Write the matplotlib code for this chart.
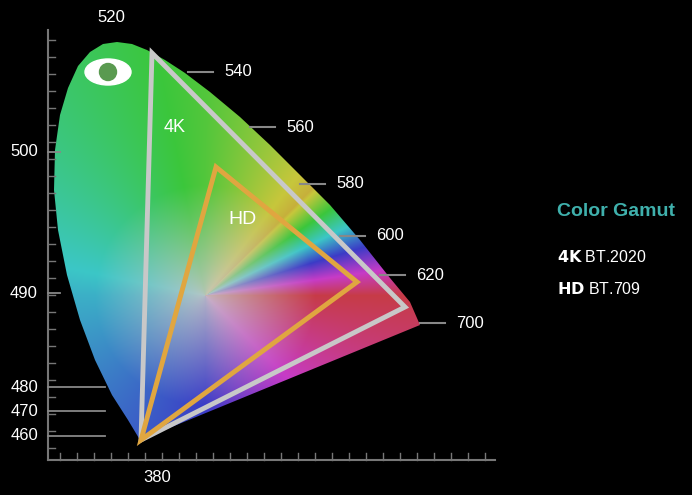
import numpy as np
import matplotlib
matplotlib.use("Agg")
import matplotlib.pyplot as plt
from matplotlib.patches import Polygon, Ellipse, Circle
from matplotlib.colors import hsv_to_rgb

plt.rcParams['font.family'] = ['Liberation Sans', 'DejaVu Sans']

# ---- data (pixel-space layout of the stylised diagram) ----
left_labels = ["500", "490", "480", "470", "460"]
left_label_y = [152, 293, 387, 411, 436]
spectral_labels = ["540", "560", "580", "600", "620", "700"]
spectral_x = [188, 250, 300, 340, 380, 420]
spectral_y = [72, 127, 184, 236, 275, 323]
top_label, top_xy = "520", (111, 18)
bottom_label, bottom_xy = "380", (157, 478)
locus_x = [140, 128, 112, 95, 80, 67, 58, 54, 55, 60, 68, 78, 90, 103, 117, 132, 147, 165, 185,
           210, 240, 270, 300, 330, 360, 390, 410, 420]
locus_y = [440, 420, 395, 360, 320, 275, 230, 190, 150, 115, 88, 66, 52, 44, 42, 44, 50, 60, 73,
           92, 117, 145, 175, 205, 240, 278, 302, 325]
tri_4k_x = [152, 405, 141]; tri_4k_y = [53, 307, 440]
tri_hd_x = [216, 357, 141]; tri_hd_y = [167, 282, 440]

W, H = 692, 495
fig = plt.figure(figsize=(W/100, H/100), dpi=100, facecolor="black")
ax = fig.add_axes([0, 0, 1, 1])
ax.set_xlim(0, W); ax.set_ylim(H, 0); ax.axis("off"); ax.set_facecolor("black")

# colour field
cx, cy = 205, 295
yy, xx = np.mgrid[0:H, 0:W]
dx = xx - cx; dy = cy - yy
ang = np.degrees(np.arctan2(dy, dx)) % 360
hue = np.interp(ang, [0, 45, 90, 180, 225, 270, 315, 360],
                [355, 50, 110, 190, 215, 240, 300, 355]) / 360.0 % 1.0
r = np.hypot(dx, dy)
sat = np.clip(r / 110, 0, 1) * 0.6 + 0.1
val = np.full_like(sat, 0.78)
img = hsv_to_rgb(np.dstack([hue, sat, val]))
im = ax.imshow(img, extent=(0, W, H, 0), origin="upper", zorder=1)
locus = Polygon(np.column_stack([locus_x, locus_y]), closed=True, transform=ax.transData)
im.set_clip_path(locus)

# axes lines
ax.plot([48, 48], [30, 460], color="#777", lw=1.5, zorder=2)
ax.plot([48, 495], [460, 460], color="#777", lw=1.5, zorder=2)
for t in range(40, 460, 17):
    ax.plot([48, 55], [t, t], color="#777", lw=1, zorder=2)
for t in range(60, 495, 17):
    ax.plot([t, t], [460, 453], color="#777", lw=1, zorder=2)
for lab, y in zip(left_labels, left_label_y):
    ax.text(38, y, lab, color="white", fontsize=12, ha="right", va="center")
    ax.plot([48, 105 if y > 380 else 60], [y, y], color="#888", lw=1.3, zorder=2)
for lab, x, y in zip(spectral_labels, spectral_x, spectral_y):
    ax.plot([x, x + 25], [y, y], color="#888", lw=1.5, zorder=2)
    ax.text(x + 36, y, lab, color="white", fontsize=12, ha="left", va="center")
ax.text(*top_xy, top_label, color="white", fontsize=12, ha="center", va="center")
ax.text(*bottom_xy, bottom_label, color="white", fontsize=12, ha="center", va="center")

# gamut triangles
ax.add_patch(Polygon(np.column_stack([tri_4k_x, tri_4k_y]), closed=True, fill=False,
                     ec="#c8c8c8", lw=3.5, zorder=4))
ax.add_patch(Polygon(np.column_stack([tri_hd_x, tri_hd_y]), closed=True, fill=False,
                     ec="#e0a640", lw=3.5, zorder=5))
ax.text(175, 127, "4K", color="white", fontsize=13, ha="center", va="center", zorder=6)
ax.text(242, 220, "HD", color="white", fontsize=14, ha="center", va="center", zorder=6)

# eye icon
ax.add_patch(Ellipse((108, 72), 46, 26, color="white", zorder=6))
ax.add_patch(Circle((108, 72), 8.5, color="#5a9a50", zorder=7))

# legend
ax.text(557, 212, "Color Gamut", color="#3fb0ac", fontsize=14, fontweight="bold", va="center")
ax.text(557, 257, r"$\bf{4K}$ BT.2020", color="white", fontsize=11.5, va="center")
ax.text(557, 289, r"$\bf{HD}$ BT.709", color="white", fontsize=11.5, va="center")

fig.savefig("out.png", dpi=100, facecolor="black")
